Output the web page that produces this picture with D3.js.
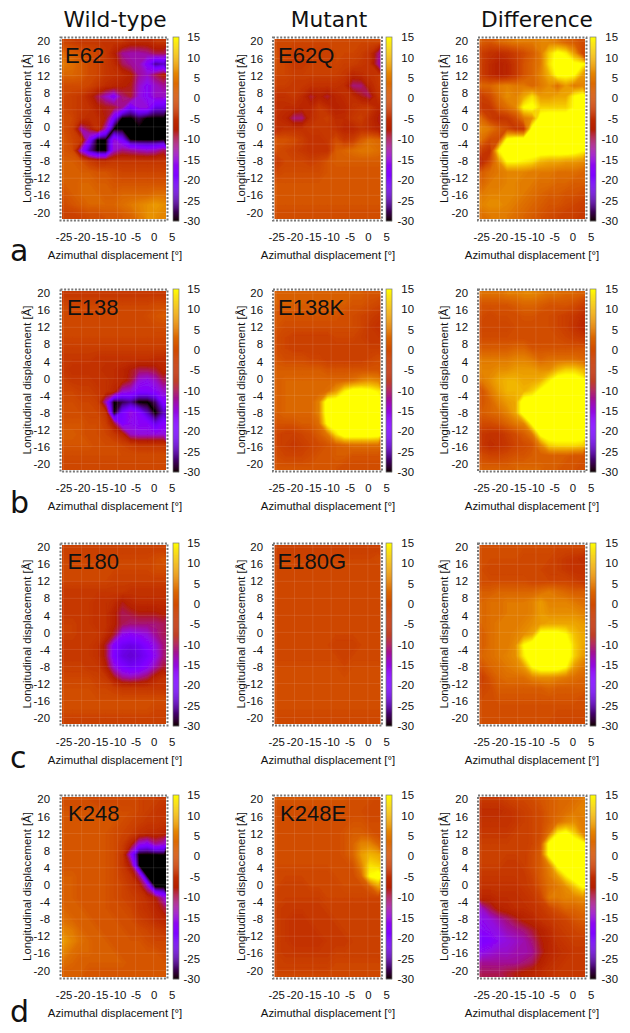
<!DOCTYPE html>
<html><head><meta charset="utf-8">
<style>html,body{margin:0;padding:0;background:#fff}svg{display:block}text{fill:#111}</style>
<script src="https://cdn.jsdelivr.net/npm/d3@7"></script></head><body><div id="c"></div>
<script>
const columnTitles=["Wild-type","Mutant","Difference"];
const rowLetters=["a","b","c","d"];
const xTicks=[-25,-20,-15,-10,-5,0,5];
const yTicks=[20,16,12,8,4,0,-4,-8,-12,-16,-20];
const cbTicks=[15,10,5,0,-5,-10,-15,-20,-25,-30];
const panelNames=[["E62","E62Q",""],["E138","E138K",""],["E180","E180G",""],["K248","K248E",""]];

const wtE62=[
-1,-2,-3,-3,-3,-4,-4,-4,-6,-6,-6,-4,-4,
3,2,1,0,-1,-3,-7,-12,-13,-13,-12,-10,-10,
5,4,2,0,-1,-3,-5,-10,-12,-13,-18,-26,-24,
3,3,2,0,-1,-3,-4,-5,-7,-12,-14,-10,-7,
0,0,0,-1,-3,-5,-6,-7,-8,-14,-17,-14,-12,
-1,-2,-3,-6,-10,-14,-18,-11,-9,-15,-17,-14,-14,
-1,-2,-3,-4,-7,-8,-9,-12,-20,-15,-15,-22,-22,
0,-1,-4,-5,-5,-8,-20,-38,-40,-28,-38,-40,-40,
0,-2,-13,-9,-4,-14,-40,-40,-40,-40,-40,-40,-40,
1,-1,-3,-18,-40,-40,-15,-20,-30,-40,-40,-40,-30,
1,0,-15,-25,-40,-40,-14,-11,-12,-13,-14,-13,-10,
2,2,1,-2,-4,-4,-3,-3,-3,-3,-3,-3,-3,
2,2,2,2,1,1,0,-1,-1,-1,-1,-1,-1,
2,2,3,3,2,2,1,1,1,1,1,1,1,
1,2,3,3,3,2,2,3,3,3,3,4,4,
0,1,2,3,3,3,3,4,5,6,7,8,7,
-2,-2,-1,0,0,1,1,2,3,5,7,7,6];
const mutE62Q=[
-1,-1,-1,-1,-1,-1,-1,-1,-1,-1,-1,-1,-1,
0,-1,-2,-2,-2,-2,-2,-1,-1,-1,-2,-4,-11,
0,-1,-3,-3,-2,-2,-2,-1,-2,-2,-3,-4,-12,
-1,-1,-2,-2,-2,-2,-2,-2,-3,-6,-5,-4,-3,
-2,-2,-3,-3,-4,-4,-4,-4,-5,-11,-11,-6,-3,
-4,-4,-3,-5,-9,-7,-9,-6,-5,-5,-8,-10,-4,
-5,-5,-5,-6,-6,-3,-5,-7,-6,-4,-3,-3,-6,
-5,-6,-11,-11,-5,-3,-2,-5,-5,-3,-2,-5,-8,
-5,-4,-4,-4,-3,-3,-3,-4,-6,-6,-4,-5,-7,
1,1,0,-2,-4,-4,-3,0,-3,-2,2,4,3,
0,-1,-2,-3,-4,-4,-4,2,3,4,5,5,4,
-3,-1,-1,-1,-2,-1,1,2,2,2,2,2,2,
-1,0,0,0,0,0,1,1,1,1,1,1,1,
1,1,1,1,1,1,1,1,1,1,1,1,1,
1,1,1,1,1,1,1,1,1,1,1,1,1,
1,1,1,1,1,1,1,1,1,1,1,1,1,
0,0,0,0,0,0,0,0,0,0,0,0,0];
const diffE62=[
2,1,3,4,5,5,5,6,6,5,3,2,0,
-2,-4,-5,-4,-2,0,2,5,12,16,14,8,-1,
-2,-5,-7,-6,-3,1,3,5,13,17,17,16,15,
-2,-5,-7,-6,-3,1,3,6,10,16,16,15,8,
3,3,5,6,5,5,3,5,7,4,8,5,6,
-2,0,4,7,6,9,13,8,8,9,9,15,17,
-3,-3,2,4,6,15,16,12,12,12,12,15,17,
3,-2,-4,-3,0,5,7,17,18,18,18,18,18,
6,5,2,0,-3,-3,17,18,18,18,18,18,18,
4,0,0,16,18,18,18,18,18,18,18,18,16,
-2,-4,14,18,18,18,18,18,18,18,18,17,15,
-6,0,7,15,15,14,13,10,9,9,8,8,7,
2,4,5,6,6,6,5,5,5,4,4,4,3,
3,5,5,6,6,5,5,4,4,3,3,2,2,
5,6,6,6,6,5,4,3,2,2,1,1,0,
6,7,7,6,5,4,3,2,1,1,0,-1,-2,
4,5,5,5,4,3,2,1,0,-1,-2,-2,-3];
const wtE138=[
-3,-3,-3,-3,-3,-3,-3,-3,-3,-3,-3,-3,-3,
-1,-1,-1,-1,-1,-1,-1,-1,-1,-1,-1,0,0,
-1,-1,-1,-1,-1,-1,-1,-1,-1,-1,0,1,2,
-1,-1,-1,-1,-1,-1,-1,-1,-1,-1,-1,0,0,
-1,-1,-1,-1,-1,-1,-1,-1,-1,-1,-1,-1,-1,
-2,-2,-2,-2,-2,-2,-2,-2,-2,-2,-2,-2,-2,
-3,-3,-3,-3,-4,-4,-4,-4,-4,-4,-4,-5,-5,
-3,-4,-4,-4,-4,-5,-5,-6,-8,-10,-10,-9,-6,
-2,-3,-3,-3,-4,-4,-5,-6,-9,-15,-16,-14,-10,
-1,-1,-2,-2,-3,-4,-6,-14,-15,-18,-18,-17,-14,
0,0,-1,-1,-2,-14,-34,-28,-26,-38,-36,-27,-18,
0,0,0,-1,-1,-4,-34,-20,-15,-18,-24,-38,-24,
1,1,1,0,0,-2,-9,-19,-16,-17,-17,-22,-18,
2,2,1,0,0,-1,-3,-6,-14,-15,-15,-15,-15,
1,1,1,1,0,0,0,-1,-2,-3,-3,-3,-3,
0,0,0,0,0,0,0,0,0,0,0,0,0,
-1,-1,-1,-1,-1,-1,-1,-1,-1,-1,-1,-1,-1];
const mutE138K=[
2,2,2,2,2,2,2,2,2,2,2,1,1,
2,2,2,2,2,2,2,2,2,1,1,0,-1,
1,1,1,1,1,1,1,1,0,0,-1,-2,-3,
1,0,0,0,0,0,0,0,0,0,-1,-3,-4,
0,-1,-2,-2,-2,-2,-2,-1,-1,-1,-2,-3,-3,
0,-1,-2,-2,-2,-2,-2,-2,-2,-2,-2,-2,-2,
1,0,0,0,-1,-1,-2,-2,-2,-2,-2,-1,0,
2,2,2,2,2,2,1,1,1,1,1,1,1,
2,3,3,3,3,3,3,3,3,4,6,7,6,
2,3,3,3,3,3,4,8,14,17,17,16,14,
2,3,3,3,3,6,18,18,18,18,18,18,18,
2,3,3,3,3,6,18,18,18,18,18,18,18,
1,1,1,2,2,4,16,18,18,18,18,18,18,
-1,-2,-2,-1,0,2,5,13,18,18,18,18,17,
-1,-2,-3,-2,-1,0,1,2,3,4,4,4,4,
0,-1,-1,-1,0,1,1,2,2,1,1,1,1,
1,1,1,1,1,1,1,1,0,0,0,0,0];
const diffE138=[
4,4,4,5,5,6,6,5,4,4,3,3,2,
1,1,1,1,2,3,3,2,1,1,1,0,-2,
0,-1,0,0,0,1,1,0,0,-1,-2,-3,-5,
-1,-1,-1,-1,0,0,0,0,0,-1,-2,-4,-6,
0,0,0,0,0,0,0,0,0,0,-1,-2,-3,
2,2,2,2,3,3,1,1,1,1,1,1,1,
5,5,5,5,6,6,5,3,4,4,4,4,3,
6,6,7,7,8,8,8,7,7,10,12,12,10,
5,7,9,10,10,9,9,10,14,18,18,18,16,
1,5,8,10,10,10,12,16,18,18,18,18,17,
1,3,6,8,9,18,18,18,18,18,18,18,18,
2,3,4,6,9,18,18,18,18,18,18,18,18,
0,0,1,3,5,6,16,18,18,18,18,18,18,
-3,-4,-4,-2,0,2,5,16,18,18,18,18,18,
-3,-5,-4,-3,-1,0,1,6,12,13,13,13,12,
0,-1,-1,0,1,1,2,2,2,2,2,1,1,
2,2,2,2,3,3,3,3,2,2,1,1,0];
const wtE180=[
-2,-2,-2,-2,-2,-2,-2,-2,-2,-2,-2,-2,-2,
-1,-1,-1,-1,-1,-1,-1,-1,-1,-1,-1,0,1,
-1,-1,-1,-1,-1,-1,-1,-1,-1,-1,-1,0,0,
-1,-1,-1,-1,-1,-1,-2,-2,-2,-2,-2,-2,-2,
-3,-3,-3,-3,-3,-3,-3,-3,-4,-4,-4,-4,-4,
-3,-3,-3,-3,-4,-4,-5,-8,-6,-5,-5,-5,-5,
-3,-3,-3,-3,-4,-4,-7,-10,-9,-8,-8,-8,-7,
-2,-2,-3,-3,-4,-4,-7,-10,-11,-11,-11,-11,-10,
-2,-2,-3,-3,-3,-5,-9,-16,-17,-16,-15,-12,-10,
-3,-3,-3,-3,-4,-9,-18,-21,-22,-21,-18,-15,-11,
-3,-3,-3,-3,-4,-9,-19,-22,-23,-22,-20,-16,-11,
-2,-2,-2,-3,-3,-7,-15,-19,-21,-20,-17,-13,-9,
-1,-1,-1,-1,-2,-3,-8,-12,-13,-12,-10,-6,-4,
0,0,0,0,-1,-1,-2,-3,-3,-3,-3,-3,-3,
0,0,0,0,0,0,0,0,0,0,0,0,0,
0,0,0,0,0,0,0,0,0,0,0,-1,-1,
-2,-2,-2,-2,-2,-2,-2,-2,-2,-2,-2,-2,-2];
const mutE180G=[
-2,-2,-2,-2,-2,-2,-2,-2,-2,-2,-2,-2,-2,
-1,-1,-1,-1,-1,-1,-1,-1,-1,-1,-1,-1,0,
-1,-1,-1,-1,-1,-1,-1,-1,-1,-1,-1,-1,-1,
-1,-1,-1,-1,-1,-1,-1,-1,-1,-1,-1,-1,-1,
-1,-1,-1,-1,-1,-1,-1,-1,-1,-1,-1,-1,-1,
-1,-1,-1,-1,-1,-1,-1,-1,-1,-1,-1,-1,-1,
-1,-1,-1,-1,-1,-1,-1,-1,-1,-1,-1,-1,-1,
-1,-1,-1,-1,-1,-1,-1,-1,-1,-1,-1,-1,-1,
-1,-1,-1,-1,-1,-1,-1,-1,-1,-1,-1,-1,-1,
-1,-1,-1,-1,-1,-1,-1,-2,-2,-2,-1,-1,-1,
-1,-1,-1,-1,-1,-1,-1,-1,-2,-1,-1,-1,-1,
0,0,0,0,0,0,0,0,-1,0,0,0,0,
0,0,0,0,0,0,0,0,0,0,0,0,0,
0,0,0,0,0,0,0,0,0,0,0,0,0,
0,0,0,0,0,0,0,0,0,0,0,0,0,
0,0,0,0,0,0,0,0,0,0,0,0,0,
-1,-1,-1,-1,-1,-1,-1,-1,-1,-1,-1,-1,-1];
const diffE180=[
0,0,0,0,0,0,0,0,0,-1,-1,-1,-1,
0,0,0,0,0,-1,-1,-1,-1,-2,-3,-4,-5,
0,-1,-1,-1,-1,-1,-1,-1,-2,-2,-3,-4,-4,
0,0,0,0,0,0,-1,-1,-1,-1,-1,-2,-3,
2,2,3,3,3,3,3,4,5,4,3,2,2,
3,4,4,5,5,5,6,8,6,6,6,5,4,
3,4,4,5,5,5,6,8,7,7,7,7,6,
3,4,5,5,5,6,7,8,9,9,9,9,8,
2,4,5,5,6,7,9,17,17,17,15,11,9,
2,4,5,5,7,15,18,18,18,18,18,12,9,
3,4,5,6,7,14,18,18,18,18,18,12,8,
1,3,4,5,6,8,15,18,18,18,15,8,5,
-2,1,3,4,4,4,6,7,7,6,5,4,3,
-1,0,2,2,2,2,2,2,3,2,2,2,2,
0,0,1,1,1,1,1,1,1,1,1,1,0,
0,0,0,0,0,0,0,0,0,0,0,0,0,
0,0,0,0,0,0,0,0,0,-1,-1,-1,-1];
const wtK248=[
0,0,0,0,-1,-1,-1,-1,-1,-1,-2,-2,-3,
1,1,1,1,1,1,1,0,0,-1,-2,-3,-4,
1,1,1,1,1,1,1,0,-1,-2,-3,-3,-4,
1,1,1,1,1,1,0,-1,-2,-4,-5,-5,-6,
1,1,1,1,1,1,0,-2,-6,-15,-17,-12,-14,
1,1,1,1,1,1,0,-3,-16,-36,-40,-38,-30,
1,1,1,1,1,1,0,-3,-9,-30,-40,-40,-40,
2,2,1,1,1,1,0,-2,-4,-11,-35,-40,-40,
2,2,1,1,1,1,0,-1,-3,-5,-13,-36,-38,
2,2,1,1,1,1,0,-1,-2,-3,-5,-8,-14,
3,2,2,1,1,1,0,0,-1,-3,-4,-6,-9,
4,3,2,2,1,1,1,0,0,-2,-3,-5,-6,
6,5,3,2,2,1,1,1,0,0,-1,-2,-3,
8,6,4,3,2,2,1,1,1,1,0,-1,-1,
6,4,3,3,2,2,2,1,1,1,1,1,0,
4,3,2,2,2,2,2,2,1,1,1,1,1,
2,2,2,1,1,1,1,1,1,1,1,1,1];
const mutK248E=[
1,1,1,1,1,1,1,1,1,0,0,0,-1,
0,0,0,0,0,0,0,0,0,0,0,-1,-1,
0,0,0,0,0,0,0,0,0,1,1,0,0,
0,0,0,0,0,0,0,0,1,2,2,1,0,
0,0,0,0,0,0,0,0,1,3,6,6,3,
0,0,0,0,0,0,0,0,1,3,8,10,9,
0,0,0,0,0,0,0,0,0,1,6,13,12,
-1,-1,-1,-1,-1,-1,-1,0,0,0,3,15,17,
-1,-2,-2,-2,-1,-1,-1,-1,0,0,0,2,8,
-2,-2,-2,-2,-2,-2,-1,-1,-1,-1,-1,-1,-1,
-2,-3,-3,-3,-3,-3,-2,-2,-2,-2,-2,-2,-2,
-2,-3,-4,-4,-3,-3,-3,-2,-2,-2,-2,-2,-2,
-2,-3,-4,-4,-4,-3,-3,-3,-2,-2,-2,-2,-2,
-2,-3,-4,-4,-4,-4,-3,-3,-3,-2,-2,-2,-2,
-2,-3,-3,-3,-3,-3,-3,-2,-2,-2,-2,-2,-2,
-2,-2,-2,-2,-2,-2,-2,-1,-1,-1,-1,-1,-1,
-1,-1,-1,-1,-1,-1,-1,-1,-1,-1,-1,-1,-1];
const diffK248=[
-3,-3,-3,-2,-1,-1,0,1,2,3,3,4,5,
-5,-5,-5,-4,-3,-2,-1,0,2,3,4,5,6,
-4,-4,-4,-4,-3,-2,-1,0,2,4,6,7,5,
-3,-3,-3,-3,-2,-2,-1,0,4,14,16,12,6,
-2,-2,-2,-2,-2,-2,-1,1,16,18,18,18,16,
-2,-2,-2,-2,-2,-2,0,2,16,18,18,18,18,
-2,-2,-2,-3,-3,-2,0,2,6,16,18,18,18,
-3,-3,-3,-3,-3,-3,-1,2,5,8,14,18,18,
-4,-4,-4,-4,-4,-3,-2,1,4,5,7,11,15,
-6,-6,-5,-5,-5,-4,-3,-1,5,5,6,6,7,
-14,-10,-7,-6,-5,-5,-4,-3,-1,1,3,3,4,
-16,-15,-13,-11,-9,-7,-6,-4,-3,-2,-1,1,2,
-17,-16,-15,-13,-12,-11,-9,-7,-5,-3,-2,-1,0,
-19,-18,-16,-15,-14,-13,-11,-8,-6,-4,-3,-2,-2,
-16,-15,-14,-14,-13,-13,-12,-9,-6,-5,-4,-3,-3,
-12,-12,-12,-12,-12,-11,-10,-7,-5,-4,-3,-3,-3,
-10,-10,-10,-9,-8,-7,-6,-5,-4,-3,-3,-3,-3];
const panelGrids=[[wtE62,mutE62Q,diffE62],[wtE138,mutE138K,diffE138],[wtE180,mutE180G,diffE180],[wtK248,mutK248E,diffK248]];

const gridCols=13, gridRows=17;
const W=630,H=1033;
const colX=[[60,168,173,50,27,115,200],[272.5,382.5,386,263,241,328,414],[477.5,587,590,468,444,532,618]];
const rowY=[[37,221],[289,472],[543,726],[795,979]];
const titleX=[115,329,537];
const letterY=[261,513,768,1022];
const nameX=[[5,5.5],[7,5.5],[7.5,5],[8,7.5]];
const FONT='"Liberation Sans",Arial,sans-serif';
const LABEL=11.4;

// gnuplot default pm3d palette (rgbformulae 7,5,15)
const gray=d3.scaleLinear().domain([-30,15]).range([0,1]).clamp(true);
function palette(v){const g=gray(v);
  const r=Math.sqrt(g),gg=g*g*g,b=Math.max(0,Math.sin(2*Math.PI*g));
  return d3.rgb(r*255,gg*255,b*255).formatHex();}
const levels=d3.range(-30.5,15.01,0.5);

const svg=d3.select("#c").append("svg").attr("width",W).attr("height",H).attr("viewBox",`0 0 ${W} ${H}`);
const defs=svg.append("defs");
defs.append("filter").attr("id","soft").attr("x","-5%").attr("y","-5%").attr("width","110%").attr("height","110%")
  .append("feGaussianBlur").attr("stdDeviation",0.7);

svg.selectAll("text.title").data(columnTitles).join("text").attr("class","title")
  .attr("x",(d,i)=>titleX[i]).attr("y",27).attr("text-anchor","middle")
  .attr("font-family","DejaVu Sans").attr("font-size",21.7).text(d=>d);
svg.selectAll("text.letter").data(rowLetters).join("text").attr("class","letter")
  .attr("x",10).attr("y",(d,i)=>letterY[i])
  .attr("font-family","DejaVu Sans").attr("font-size",30).text(d=>d);

rowY.forEach((ry,r)=>colX.forEach((cx,c)=>{
  const [x0,x1,cb0,ytR,ylX,xlX,cbR]=cx,[y0,y1]=ry;
  const x=d3.scaleLinear().domain([-26,4]).range([x0,x1]);
  const y=d3.scaleLinear().domain([21,-22]).range([y0,y1]);
  const gx=d3.scaleLinear().domain([0,gridCols]).range([-26,4]);
  const gy=d3.scaleLinear().domain([0,gridRows]).range([21,-22]);
  const clipId=`clip${r}${c}`;
  defs.append("clipPath").attr("id",clipId).append("rect").attr("x",x0).attr("y",y0).attr("width",x1-x0).attr("height",y1-y0);
  const g=svg.append("g").attr("font-family",FONT).attr("font-size",LABEL);
  const proj=d3.geoTransform({point(px,py){this.stream.point(x(gx(px)),y(gy(py)));}});
  const path=d3.geoPath(proj);
  const values=panelGrids[r][c];
  const bands=d3.contours().size([gridCols,gridRows]).thresholds(levels)(values.map(v=>Math.max(v,-30.5)));
  g.append("g").attr("clip-path",`url(#${clipId})`).append("g").attr("filter","url(#soft)")
    .selectAll("path").data(bands).join("path").attr("d",path)
    .attr("fill",d=>palette(d.value+0.25)).attr("stroke",d=>palette(d.value+0.25)).attr("stroke-width",0.4);
  // faint grid
  const grid=g.append("g").attr("stroke","#fff").attr("stroke-opacity",0.1).attr("stroke-width",1);
  grid.selectAll("line.v").data(xTicks.filter(t=>t<4)).join("line").attr("class","v")
    .attr("x1",d=>x(d)).attr("x2",d=>x(d)).attr("y1",y0).attr("y2",y1);
  grid.selectAll("line.h").data(yTicks).join("line").attr("class","h")
    .attr("x1",x0).attr("x2",x1).attr("y1",d=>y(d)).attr("y2",d=>y(d));
  // frame
  g.append("rect").attr("x",x0+0.5).attr("y",y0+0.5).attr("width",x1-x0-1).attr("height",y1-y0-1).attr("fill","none").attr("stroke","#fff").attr("stroke-width",3);
  g.append("rect").attr("x",x0+0.5).attr("y",y0+0.5).attr("width",x1-x0-1).attr("height",y1-y0-1).attr("fill","none").attr("stroke","#777").attr("stroke-width",2).attr("stroke-dasharray","2 1.6");
  const fmt=d=>String(d);
  // x axis
  const ax=g.append("g").attr("transform",`translate(0,${y1+16})`).call(d3.axisBottom(x).tickValues(xTicks).tickSize(0).tickPadding(0).tickFormat(fmt));
  ax.select(".domain").remove();
  ax.selectAll("text").attr("dy","0.32em").attr("y",0);
  // y axis
  const ay=g.append("g").attr("transform",`translate(${ytR},0)`).call(d3.axisLeft(y).tickValues(yTicks).tickSize(0).tickPadding(0).tickFormat(fmt));
  ay.select(".domain").remove();
  // labels
  g.append("text").attr("x",xlX).attr("y",y1+38).attr("text-anchor","middle").text("Azimuthal displacement [°]");
  g.append("text").attr("transform",`translate(${ylX},${(y0+y1)/2-0.5}) rotate(-90)`).attr("dy","0.35em").attr("text-anchor","middle").text("Longitudinal displacement [Å]");
  if(panelNames[r][c]) g.append("text").attr("x",x0+nameX[r][c]).attr("y",y0+25.5).attr("font-size",22).text(panelNames[r][c]);
  // colour bar
  const cb=d3.scaleLinear().domain([-30,15]).range([y1,y0]);
  g.selectAll("rect.cb").data(d3.range(-30,15,0.25)).join("rect").attr("class","cb")
    .attr("x",cb0).attr("width",6).attr("y",d=>cb(d+0.25)).attr("height",cb(-30)-cb(-29.7)).attr("fill",d=>palette(d+0.125));
  g.append("rect").attr("x",cb0).attr("y",y0).attr("width",6).attr("height",y1-y0).attr("fill","none").attr("stroke","#777").attr("stroke-width",0.7);
  const ac=g.append("g").attr("transform",`translate(${cbR},0)`).call(d3.axisRight(cb).tickValues(cbTicks).tickSize(0).tickPadding(0).tickFormat(fmt));
  ac.select(".domain").remove();
  ac.selectAll("text").attr("text-anchor","end");
  g.selectAll(".tick text").attr("font-size",LABEL).attr("font-family",FONT).attr("fill","#111");
}));
</script></body></html>
